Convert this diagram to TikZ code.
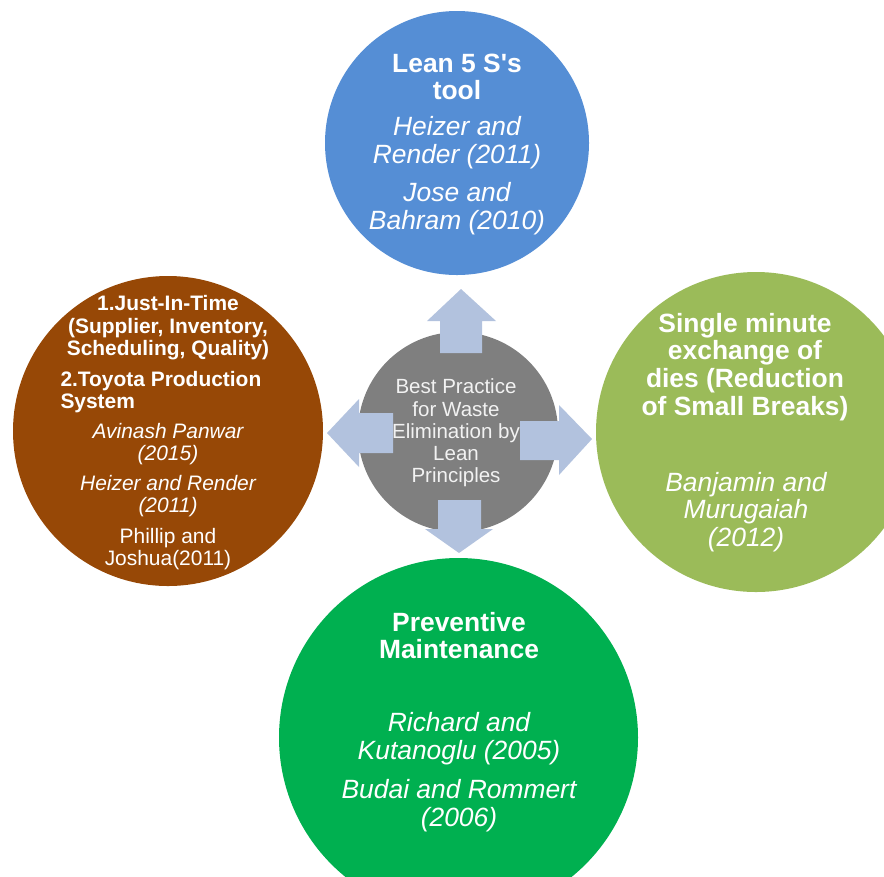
\documentclass[tikz,border=0pt]{standalone}
\usepackage{fontspec}
\setmainfont{Liberation Sans}[Ligatures=TeXOff]

\definecolor{leanblue}{RGB}{85,142,213}
\definecolor{leanbrown}{RGB}{151,72,6}
\definecolor{leanolive}{RGB}{155,187,89}
\definecolor{leangreen}{RGB}{0,176,80}
\definecolor{leangray}{RGB}{127,127,127}
\definecolor{arrowblue}{RGB}{178,194,222}

\tikzset{every picture/.style={line width=0.75pt}}
\tikzset{
  bighead/.style={text=white, align=center, inner sep=0.75pt, font=\fontsize{19.8}{20.8}\selectfont\bfseries},
  bigcite/.style={text=white, align=center, inner sep=0.75pt, font=\fontsize{19.8}{20.8}\selectfont\itshape},
  smallhead/.style={text=white, align=center, inner sep=0.75pt, font=\fontsize{15.7}{16.8}\selectfont\bfseries},
  smallcite/.style={text=white, align=center, inner sep=0.75pt, font=\fontsize{15.7}{16.8}\selectfont\itshape},
  smallplain/.style={text=white, align=center, inner sep=0.75pt, font=\fontsize{15.7}{16.8}\selectfont},
  hubtext/.style={text={rgb,255:red,242;green,242;blue,242}, align=center, inner sep=0.75pt, font=\fontsize{15.4}{16.7}\selectfont},
  blockarrow/.style={fill=arrowblue, draw=none}
}

\begin{document}
\begin{tikzpicture}[x=0.75pt,y=0.75pt,yscale=-1,xscale=1]
\clip (0,0) rectangle (884,876);

%Shape: Circle [top]
\fill [leanblue] (457,143) circle (132);
%Shape: Circle [left]
\fill [leanbrown] (168,431) circle (155);
%Shape: Circle [right]
\fill [leanolive] (756,432) circle (160);
%Shape: Circle [bottom]
\fill [leangreen] (458.5,737.5) circle (179.5);
%Shape: Circle [hub]
\fill [leangray] (458,432) circle (100);

% Text Node
\node [hubtext] (hub) at (456,433) {Best Practice\\for Waste\\Elimination by\\Lean\\Principles};

%Shape: Up Arrow
\draw [blockarrow] (440,353) -- (440,321) -- (427,321) -- (461,289) -- (496,321) -- (482,321) -- (482,353) -- cycle ;
%Shape: Left Arrow
\draw [blockarrow] (393,413) -- (359,413) -- (359,399) -- (327,433) -- (359,467) -- (359,453) -- (393,453) -- cycle ;
%Shape: Right Arrow
\draw [blockarrow] (520,421) -- (559,421) -- (559,405) -- (592,439) -- (559,475) -- (559,460) -- (520,460) -- cycle ;
%Shape: Down Arrow
\draw [blockarrow] (438,500) -- (438,529) -- (425,529) -- (459,553) -- (493,529) -- (481,529) -- (481,500) -- cycle ;

% Text Node
\node [bighead] (fiveS) at (457,77) {Lean 5 S's\\tool};
% Text Node
\node [bigcite] (fiveSa) at (457,143) {Heizer and\\Render (2011)};
% Text Node
\node [bigcite] (fiveSb) at (457,208.5) {Jose and\\Bahram (2010)};

% Text Node
\node [smallhead] (jit) at (168,328) {1.Just-In-Time\\(Supplier, Inventory,\\Scheduling, Quality)};
% Text Node
\node [smallhead, align=left, anchor=west] (tps) at (59,392) {2.Toyota Production\\System};
% Text Node
\node [smallcite] (jita) at (168,444) {Avinash Panwar\\(2015)};
% Text Node
\node [smallcite] (jitb) at (168,496) {Heizer and Render\\(2011)};
% Text Node
\node [smallplain] (jitc) at (168,549) {Phillip and\\Joshua(2011)};

% Text Node
\node [bighead] (smed) at (745,367) {Single minute\\exchange of\\dies (Reduction\\of Small Breaks)};
% Text Node
\node [bigcite] (smeda) at (746,512) {Banjamin and\\Murugaiah\\(2012)};

% Text Node
\node [bighead] (pm) at (459,635.5) {Preventive\\Maintenance};
% Text Node
\node [bigcite] (pma) at (459,738.5) {Richard and\\Kutanoglu (2005)};
% Text Node
\node [bigcite] (pmb) at (459,806) {Budai and Rommert\\(2006)};

\end{tikzpicture}
\end{document}
